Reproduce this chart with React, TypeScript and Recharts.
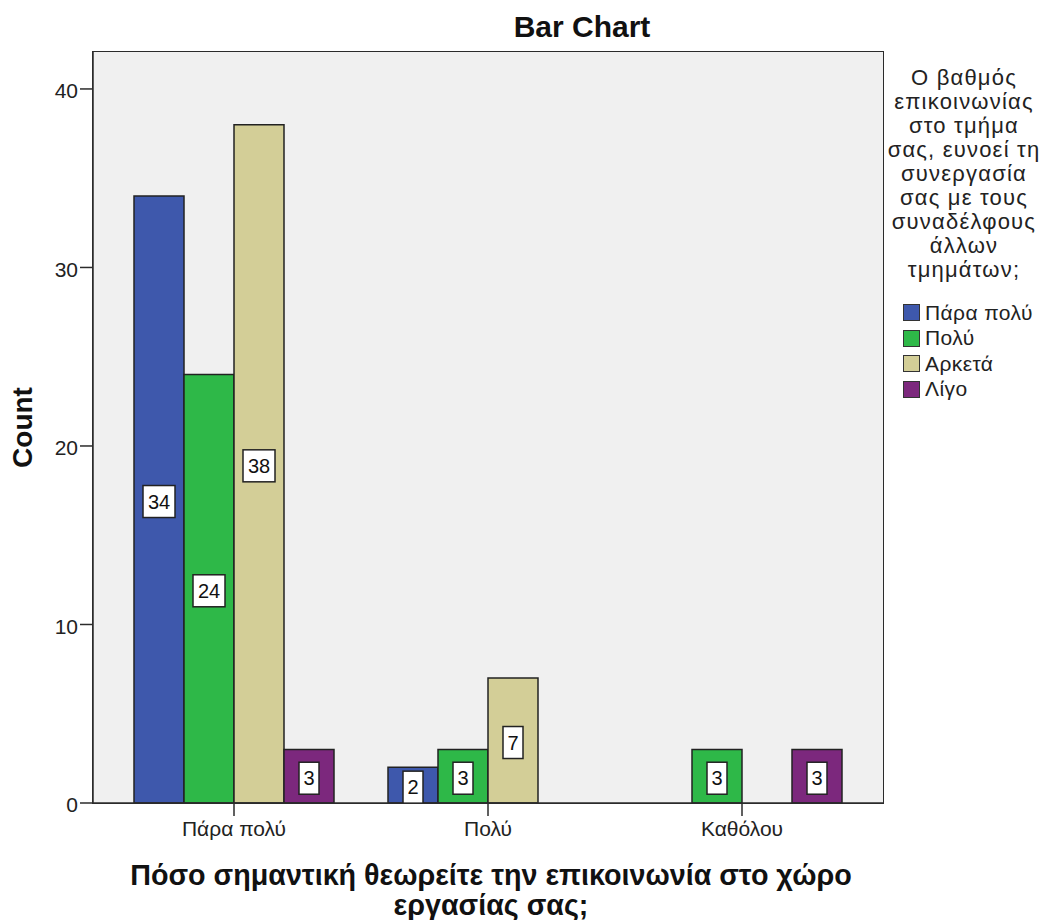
import { BarChart, Bar, XAxis, YAxis, CartesianGrid, LabelList } from 'recharts'

const categories = ['Πάρα πολύ', 'Πολύ', 'Καθόλου']
const seriesNames = ['Πάρα πολύ', 'Πολύ', 'Αρκετά', 'Λίγο']
const paraPoly = [34, 2, null]
const poly = [24, 3, 3]
const arketa = [38, 7, null]
const ligo = [3, null, 3]
const yTicks = [0, 10, 20, 30, 40]
const legendTitle = [
  'Ο βαθμός',
  'επικοινωνίας',
  'στο τμήμα',
  'σας, ευνοεί τη',
  'συνεργασία',
  'σας με τους',
  'συναδέλφους',
  'άλλων',
  'τμημάτων;',
]
const xTitle = ['Πόσο σημαντική θεωρείτε την επικοινωνία στο χώρο', 'εργασίας σας;']

const colors = ['#3e58ac', '#2eb848', '#d3ce97', '#7c287d']
const keys = ['s0', 's1', 's2', 's3']
const font = '"Liberation Sans", Arial, sans-serif'
const axisColor = '#2b2b2b'
const yMax = 42.07

// plot frame, matches the chart margins below
const plot = { left: 93, top: 52, right: 883, bottom: 803 }

const data = categories.map((name, i) => ({
  name,
  s0: paraPoly[i],
  s1: poly[i],
  s2: arketa[i],
  s3: ligo[i],
}))

function ValueBox(props: any) {
  const { x, y, width, height, value } = props
  if (value == null) return null
  const w = String(value).length > 1 ? 32 : 20
  const h = 32
  const cx = Number(x) + Number(width) / 2
  const cy = Number(y) + Number(height) / 2 + 2
  return (
    <g>
      <rect x={cx - w / 2} y={cy - h / 2} width={w} height={h} fill="#fff" stroke="#222" strokeWidth={1.5} />
      <text x={cx} y={cy + 7} textAnchor="middle" fontSize={20} fontFamily={font} fill="#111">
        {value}
      </text>
    </g>
  )
}

function LegendBox() {
  return (
    <div style={{ position: 'absolute', left: 884, top: 66, width: 160, fontFamily: font, color: '#222' }}>
      <div style={{ textAlign: 'center', fontSize: 22, lineHeight: '24px', letterSpacing: 1.2 }}>
        {legendTitle.map((t, i) => (
          <div key={i}>{t}</div>
        ))}
      </div>
      <div style={{ marginTop: 18 }}>
        {seriesNames.map((n, i) => (
          <div key={i} style={{ display: 'flex', alignItems: 'center', height: 25.5, fontSize: 21, letterSpacing: 0.4 }}>
            <span
              style={{
                display: 'inline-block',
                width: 15,
                height: 15,
                background: colors[i],
                border: '1.5px solid #333',
                marginLeft: 19,
                marginRight: 5,
              }}
            />
            {n}
          </div>
        ))}
      </div>
    </div>
  )
}

export default function App() {
  return (
    <div style={{ position: 'absolute', left: 0, top: 0, width: 1046, height: 920, background: '#fff', fontFamily: font }}>
      <div style={{ position: 'absolute', left: 0, width: 1164, top: 12, textAlign: 'center', fontWeight: 'bold', fontSize: 30, lineHeight: '30px', color: '#111' }}>
        Bar Chart
      </div>
      <BarChart
        width={1046}
        height={920}
        data={data}
        margin={{ top: plot.top, right: 1046 - plot.right, bottom: 77, left: 33 }}
        barGap={0}
      >
        <CartesianGrid fill="#f0f0f0" horizontal={false} vertical={false} />
        <XAxis
          dataKey="name"
          padding={{ left: 14, right: 14 }}
          height={40}
          stroke={axisColor}
          strokeWidth={1.5}
          tickSize={13}
          tickMargin={5}
          tick={{ fill: '#222', fontSize: 21, fontFamily: font }}
        />
        <YAxis
          domain={[0, yMax]}
          ticks={yTicks}
          width={60}
          stroke={axisColor}
          strokeWidth={1.5}
          tickSize={13}
          tick={{ fill: '#222', fontSize: 21, fontFamily: font, dy: 2 }}
          label={{ value: 'Count', angle: -90, position: 'insideLeft', offset: 0, dx: -11, style: { fontWeight: 'bold', fontSize: 28, fontFamily: font, fill: '#111', textAnchor: 'middle' } }}
        />
        {keys.map((k, i) => (
          <Bar
            key={k}
            dataKey={k}
            name={seriesNames[i]}
            fill={colors[i]}
            stroke="#222"
            strokeWidth={1.5}
            barSize={50}
            isAnimationActive={false}
          >
            <LabelList dataKey={k} content={(p: any) => <ValueBox {...p} />} />
          </Bar>
        ))}
      </BarChart>
      <div
        style={{
          position: 'absolute',
          left: plot.left - 0.75,
          top: plot.top - 0.75,
          width: plot.right - plot.left,
          height: plot.bottom - plot.top,
          border: `1.5px solid ${axisColor}`,
          pointerEvents: 'none',
        }}
      />
      <LegendBox />
      <div style={{ position: 'absolute', left: 91, width: 800, top: 860, textAlign: 'center', fontWeight: 'bold', fontSize: 28.7, lineHeight: '30px', color: '#111' }}>
        {xTitle.map((t, i) => (
          <div key={i}>{t}</div>
        ))}
      </div>
    </div>
  )
}
